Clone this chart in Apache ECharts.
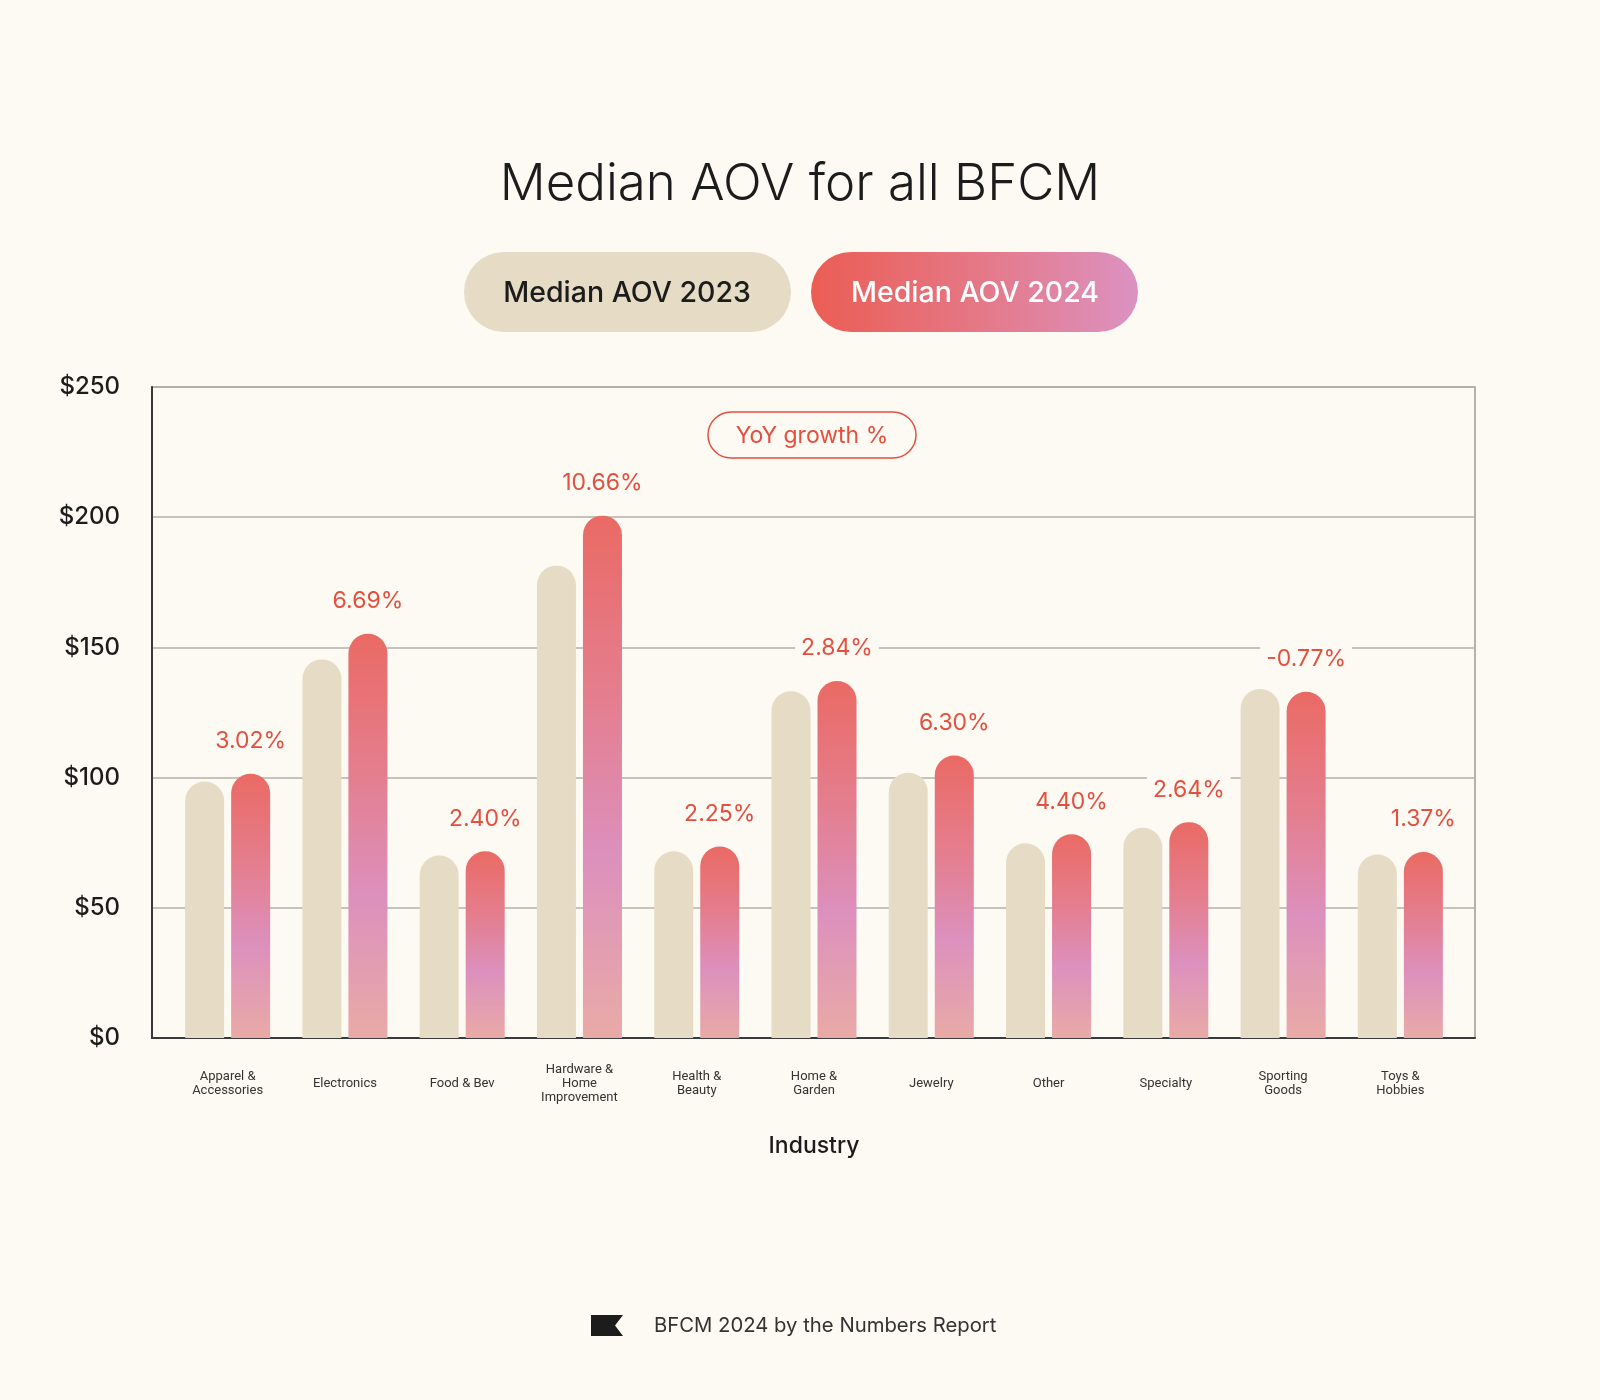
<!DOCTYPE html>
<html>
<head>
<meta charset="utf-8">
<title>Median AOV for all BFCM</title>
<script src="https://cdn.jsdelivr.net/npm/echarts@6/dist/echarts.min.js"></script>
<style>
  html, body { margin: 0; padding: 0; background: #fdf9f3; }
  #chart { width: 1600px; height: 1400px; }
</style>
</head>
<body>
<div id="chart"></div>
<script>
/* -------------------------------------------------------------------------- */
/*                          Median AOV for all BFCM                           */
/* -------------------------------------------------------------------------- */

const categories = [
  'Apparel &\nAccessories', 'Electronics', 'Food & Bev', 'Hardware &\nHome\nImprovement',
  'Health &\nBeauty', 'Home &\nGarden', 'Jewelry', 'Other', 'Specialty',
  'Sporting\nGoods', 'Toys &\nHobbies',
];
const aov2023 = [98.5, 145.4, 70.1, 181.4, 71.7, 133.2, 101.9, 74.8, 80.7, 134.0, 70.5];
const aov2024 = [101.5, 155.2, 71.7, 200.6, 73.5, 137.1, 108.5, 78.2, 82.9, 133.0, 71.4];
const yoyGrowth = ['3.02%', '6.69%', '2.40%', '10.66%', '2.25%', '2.84%', '6.30%', '4.40%', '2.64%', '-0.77%', '1.37%'];
const seriesNames = ['Median AOV 2023', 'Median AOV 2024'];
const yMin = 0;
const yMax = 250;
const yInterval = 50;

const BG = '#fdf9f3';
const RED = '#e2503f';
const BEIGE = '#e6dcc6';
const FONT = 'Inter';

const barGradient = new echarts.graphic.LinearGradient(0, 0, 0, 1, [
  { offset: 0, color: '#ea6a64' },
  { offset: 0.35, color: '#e47e8f' },
  { offset: 0.65, color: '#dc90bd' },
  { offset: 1, color: '#e9aaa6' },
]);

const chart = echarts.init(document.getElementById('chart'));

const option = {
  backgroundColor: BG,
  animation: false,
  title: {
    text: 'Median AOV for all BFCM',
    left: 'center',
    top: 154,
    textStyle: { fontFamily: FONT, fontWeight: 300, fontSize: 51, color: '#1c1c1c' },
  },
  grid: [
    // frame + y axis
    { left: 152, right: 125, top: 387, bottom: 362, show: true, borderColor: '#9c9a95', borderWidth: 1.5 },
    // bars
    { left: 169, right: 141, top: 387, bottom: 362 },
  ],
  xAxis: [
    {
      gridIndex: 0,
      type: 'category',
      data: [''],
      axisLine: { show: true, lineStyle: { color: '#3a3a3a', width: 2 } },
      axisTick: { show: false },
      axisLabel: { show: false },
    },
    {
      gridIndex: 1,
      type: 'category',
      data: categories,
      axisLine: { show: false },
      axisTick: { show: false },
      axisLabel: {
        margin: 46,
        verticalAlign: 'middle',
        fontFamily: 'Roboto',
        fontSize: 13,
        lineHeight: 14,
        color: '#333',
        interval: 0,
      },
      name: 'Industry',
      nameLocation: 'middle',
      nameGap: 97,
      nameTextStyle: { fontFamily: FONT, fontWeight: 500, fontSize: 23, color: '#1c1c1c' },
    },
  ],
  yAxis: [
    {
      gridIndex: 0,
      type: 'value',
      min: yMin,
      max: yMax,
      interval: yInterval,
      axisLine: { show: true, lineStyle: { color: '#3a3a3a', width: 2 } },
      axisTick: { show: false },
      splitLine: { lineStyle: { color: '#b3b0aa', width: 1.5 } },
      axisLabel: {
        margin: 32,
        fontFamily: FONT,
        fontWeight: 500,
        fontSize: 24,
        color: '#1c1c1c',
        padding: [4, 0, 0, 0],
        formatter: value => `$${value}`,
      },
    },
    {
      gridIndex: 1,
      type: 'value',
      min: yMin,
      max: yMax,
      interval: yInterval,
      show: false,
    },
  ],
  series: [
    {
      type: 'bar',
      name: seriesNames[0],
      xAxisIndex: 1,
      yAxisIndex: 1,
      data: aov2023,
      barWidth: 39,
      barGap: '18%',
      itemStyle: { color: BEIGE, borderRadius: [19.5, 19.5, 0, 0] },
    },
    {
      type: 'bar',
      name: seriesNames[1],
      xAxisIndex: 1,
      yAxisIndex: 1,
      data: aov2024,
      barWidth: 39,
      barGap: '18%',
      itemStyle: { color: barGradient, borderRadius: [19.5, 19.5, 0, 0] },
      label: {
        show: true,
        position: 'top',
        distance: 19,
        formatter: params => yoyGrowth[params.dataIndex],
        fontFamily: FONT,
        fontSize: 23,
        color: RED,
        backgroundColor: BG,
        padding: [2, 6],
      },
    },
  ],
  graphic: [
    // legend pills
    {
      type: 'rect',
      shape: { x: 464, y: 252, width: 327, height: 80, r: 40 },
      style: { fill: BEIGE },
    },
    {
      type: 'text',
      x: 627,
      y: 293,
      style: {
        text: seriesNames[0],
        fill: '#1c1c1c',
        font: `500 28.5px ${FONT}`,
        align: 'center',
        verticalAlign: 'middle',
      },
    },
    {
      type: 'rect',
      shape: { x: 811, y: 252, width: 327, height: 80, r: 40 },
      style: {
        fill: new echarts.graphic.LinearGradient(0, 0, 1, 0, [
          { offset: 0, color: '#eb5d54' },
          { offset: 0.5, color: '#e57785' },
          { offset: 1, color: '#dc92c2' },
        ]),
      },
    },
    {
      type: 'text',
      x: 975,
      y: 293,
      style: {
        text: seriesNames[1],
        fill: '#ffffff',
        font: `500 28.5px ${FONT}`,
        align: 'center',
        verticalAlign: 'middle',
      },
    },
    // YoY growth tag
    {
      type: 'rect',
      shape: { x: 708, y: 412, width: 208, height: 46, r: 23 },
      style: { fill: BG, stroke: RED, lineWidth: 1.5 },
      z: 10,
    },
    {
      type: 'text',
      x: 812,
      y: 436,
      style: {
        text: 'YoY growth %',
        fill: RED,
        font: `400 23px ${FONT}`,
        align: 'center',
        verticalAlign: 'middle',
      },
      z: 11,
    },
    // footer
    {
      type: 'polygon',
      shape: { points: [[591, 1315], [623, 1315], [615, 1325.5], [623, 1336], [591, 1336]] },
      style: { fill: '#1c1c1c' },
    },
    {
      type: 'text',
      x: 654,
      y: 1326,
      style: {
        text: 'BFCM 2024 by the Numbers Report',
        fill: '#333',
        font: `400 20.3px ${FONT}`,
        verticalAlign: 'middle',
      },
    },
  ],
};

chart.setOption(option);
</script>
</body>
</html>
